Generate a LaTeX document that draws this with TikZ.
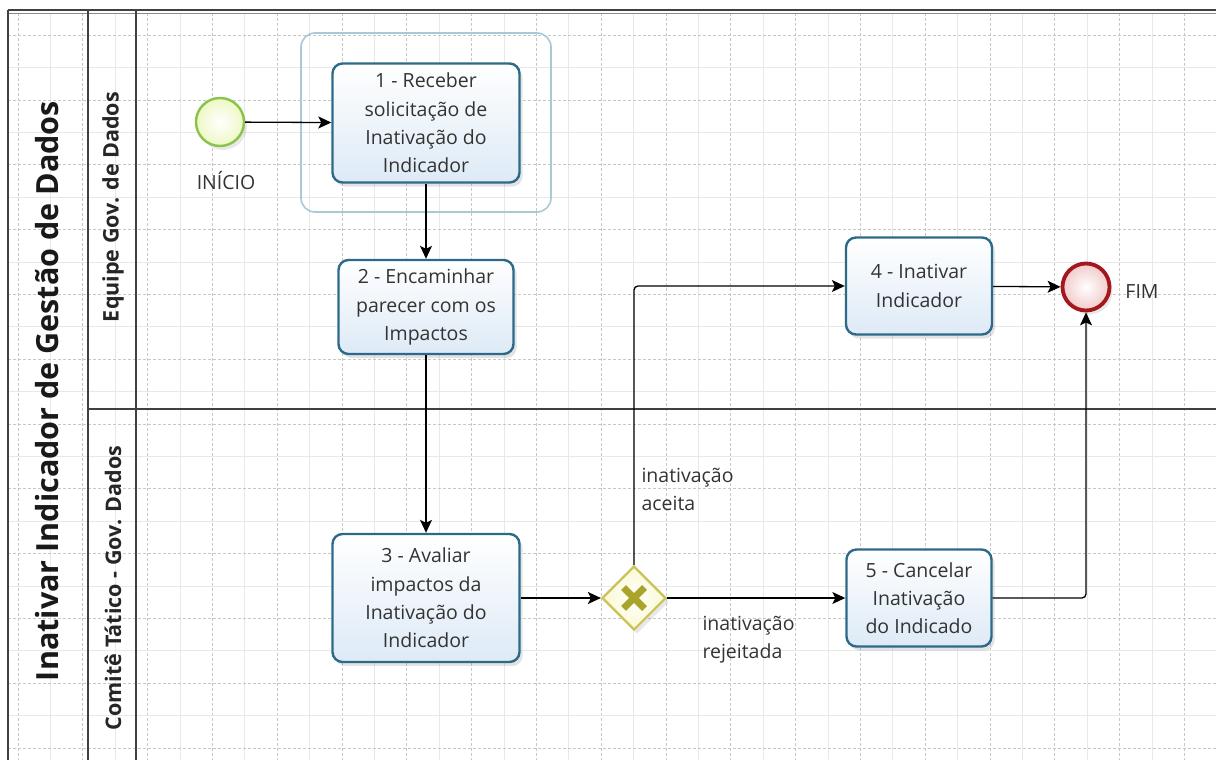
\documentclass[tikz,border=0pt]{standalone}
\usepackage{fontspec}
\setmainfont{Open Sans}
\usetikzlibrary{arrows.meta,shadows,shapes.geometric,calc}
\definecolor{taskline}{HTML}{2D6A8A}
\definecolor{taskfill}{HTML}{DDEAF6}
\definecolor{grpline}{HTML}{A9C9D9}
\definecolor{startline}{HTML}{8BC34A}
\definecolor{startfill}{HTML}{EEF8C4}
\definecolor{endline}{HTML}{A3171E}
\definecolor{endfill}{HTML}{F2CACA}
\definecolor{gwline}{HTML}{C8C45A}
\definecolor{gwfill}{HTML}{FAF9D2}
\definecolor{gwx}{HTML}{A9A52B}
\definecolor{txt}{HTML}{333333}
\begin{document}
\begin{tikzpicture}[x=1pt,y=-1pt,
  tasktext/.style={font=\fontsize{19.5}{28.3}\selectfont, text=txt, align=center},
  taskbox/.style={tasktext, draw=taskline, line width=2.4pt, rounded corners=10pt,
    top color=white, bottom color=taskfill, inner sep=1pt,
    drop shadow={shadow xshift=3pt, shadow yshift=-4pt, opacity=0.22, fill=gray}},
  grpbox/.style={draw=grpline, line width=1.6pt, rounded corners=14pt},
  startev/.style={circle, draw=startline, line width=2.4pt, inner color=white, outer color=startfill, minimum size=48pt, inner sep=0pt,
    drop shadow={shadow xshift=3pt, shadow yshift=-4pt, opacity=0.18, fill=gray}},
  endev/.style={circle, draw=endline, line width=3.8pt, inner color=white, outer color=endfill, minimum size=47pt, inner sep=0pt,
    drop shadow={shadow xshift=3pt, shadow yshift=-4pt, opacity=0.18, fill=gray}},
  gwbox/.style={diamond, aspect=1, draw=gwline, line width=2.2pt, inner color=white, outer color=gwfill, minimum width=64pt, minimum height=64pt, inner sep=0pt,
    drop shadow={shadow xshift=3pt, shadow yshift=-4pt, opacity=0.18, fill=gray}},
  xmark/.style={draw=gwx, line width=7pt},
  flow/.style={draw=black, line width=1.3pt, -{Stealth[length=13pt,width=12pt,inset=3pt]}},
  lbl/.style={font=\fontsize{19.5}{28}\selectfont, text=txt, align=left},
  frame/.style={draw=black!75, line width=1.3pt},
  gridminor/.style={draw=black!9, line width=0.6pt},
  gridmajor/.style={draw=black!22, line width=0.6pt, dash pattern=on 3pt off 2pt},
  lanelbl/.style={font=\bfseries\fontsize{21.5}{24}\selectfont, text=black!85, rotate=90},
  titlelbl/.style={font=\bfseries\fontsize{30.5}{34}\selectfont, text=black!90, rotate=90}
]
\useasboundingbox (0,0) rectangle (1216,760);
\fill[white] (0,0) rectangle (1216,760);
% grid
\foreach \i in {0,...,37}{
  \pgfmathsetmacro\xx{17.8+32.4*\i}
  \pgfmathtruncatemacro\ev{mod(\i,2)}
  \ifnum\ev=0 \draw[gridmajor] (\xx,13) -- (\xx,760);
  \else \draw[gridminor] (\xx,13) -- (\xx,760); \fi
}
\foreach \j in {0,...,22}{
  \pgfmathsetmacro\yy{35+32.4*\j}
  \pgfmathtruncatemacro\ev{mod(\j,2)}
  \ifnum\ev=0 \draw[gridmajor] (8,\yy) -- (1216,\yy);
  \else \draw[gridminor] (8,\yy) -- (1216,\yy); \fi
}
% frame
\draw[frame] (8,10) -- (1216,10);
\draw[draw=black!45, line width=1pt] (8,13.5) -- (1216,13.5);
\draw[frame] (8,10) -- (8,760);
\draw[frame] (88,10) -- (88,760);
\draw[frame] (136,10) -- (136,760);
\draw[frame] (88,409) -- (1216,409);
% labels of pool and lanes
\node[titlelbl] (title) at (47,391) {Inativar Indicador de Gestão de Dados};
\node[lanelbl] (lane1) at (113,207) {Equipe Gov. de Dados};
\node[lanelbl] (lane2) at (113,588) {Comitê Tático - Gov. Dados};
% group
\draw[grpbox] (301,33) rectangle (551,212);
% nodes
\node[startev] (start) at (220,122) {};
\node[lbl] (startlbl) at (226,181) {INÍCIO};
\node[taskbox, minimum width=187pt, minimum height=119pt] (t1) at (426,123) {1 - Receber\\solicitação de\\Inativação do\\Indicador};
\node[taskbox, minimum width=175pt, minimum height=94pt] (t2) at (426,307) {2 - Encaminhar\\parecer com os\\Impactos};
\node[taskbox, minimum width=187pt, minimum height=128pt] (t3) at (426,598) {3 - Avaliar\\impactos da\\Inativação do\\Indicador};
\node[gwbox] (gw) at (634,598) {};
\draw[xmark] ([shift={(-10.5,-10.5)}]gw.center) -- ([shift={(10.5,10.5)}]gw.center);
\draw[xmark] ([shift={(-10.5,10.5)}]gw.center) -- ([shift={(10.5,-10.5)}]gw.center);
\node[taskbox, minimum width=146pt, minimum height=97pt] (t4) at (919,286) {4 - Inativar\\Indicador};
\node[taskbox, minimum width=145pt, minimum height=97pt] (t5) at (919,598) {5 - Cancelar\\Inativação\\do Indicado};
\node[endev] (end) at (1086,287) {};
\node[lbl] (endlbl) at (1142,292) {FIM};
\node[lbl, anchor=west] (lacc) at (638,489) {inativação\\aceita};
\node[lbl, anchor=west] (lrej) at (699,640) {inativação\\rejeitada};
% flows
\draw[flow] (start) -- (t1);
\draw[flow] (t1) -- (t2);
\draw[flow] (t2) -- (t3);
\draw[flow] (t3) -- (gw);
\draw[flow, rounded corners=4pt] (gw.north) |- (t4.west);
\draw[flow] (gw) -- (t5);
\draw[flow] (t4) -- (end);
\draw[flow, rounded corners=4pt] (t5.east) -| (end.south);
\end{tikzpicture}
\end{document}
